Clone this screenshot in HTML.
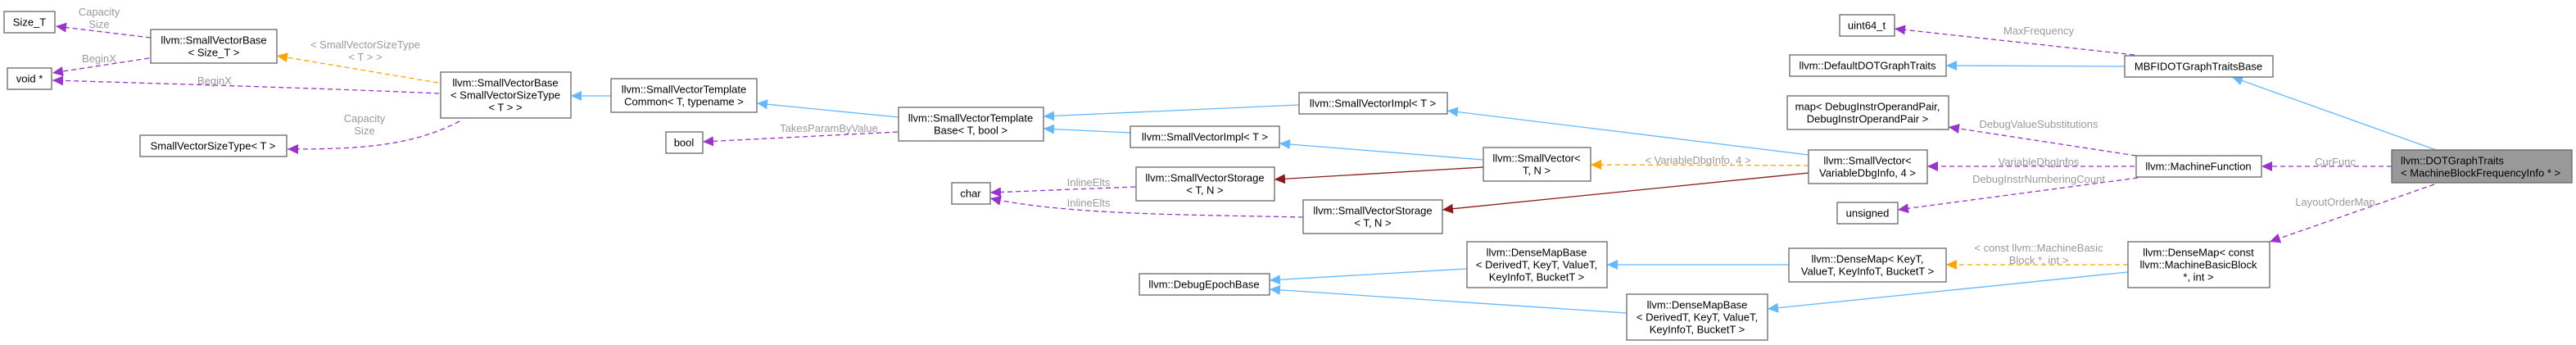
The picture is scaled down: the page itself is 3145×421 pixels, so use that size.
<!DOCTYPE html>
<html><head><meta charset="utf-8"><style>
html,body{margin:0;padding:0;background:#fff;}
svg{display:block;}
text{font-family:"Liberation Sans",Arial,sans-serif;font-size:13px;}
.n{fill:#000;}
.l{fill:#9a9a9a;text-anchor:middle;}
rect{fill:#fff;stroke:#666;stroke-width:1.3;}
.e{fill:none;stroke-width:1.3;}
.b{stroke:#63b8ff;}
.p{stroke:#9a32cd;stroke-dasharray:6,4;}
.o{stroke:#ffa500;stroke-dasharray:6,4;}
.r{stroke:#8b1a1a;}
</style></head><body>
<svg width="3145" height="421" viewBox="0 0 3145 421" xmlns="http://www.w3.org/2000/svg">
<defs>
<marker id="mb" markerUnits="userSpaceOnUse" markerWidth="14" markerHeight="12" refX="13" refY="6" orient="auto"><path d="M0,0 L13,6 L0,12 Z" fill="#63b8ff"/></marker>
<marker id="mp" markerUnits="userSpaceOnUse" markerWidth="14" markerHeight="12" refX="13" refY="6" orient="auto"><path d="M0,0 L13,6 L0,12 Z" fill="#9a32cd"/></marker>
<marker id="mo" markerUnits="userSpaceOnUse" markerWidth="14" markerHeight="12" refX="13" refY="6" orient="auto"><path d="M0,0 L13,6 L0,12 Z" fill="#ffa500"/></marker>
<marker id="mr" markerUnits="userSpaceOnUse" markerWidth="14" markerHeight="12" refX="13" refY="6" orient="auto"><path d="M0,0 L13,6 L0,12 Z" fill="#8b1a1a"/></marker>
</defs>

<!-- edges -->
<path class="e p" d="M184,46 L68,32" marker-end="url(#mp)"/>
<path class="e p" d="M182,71 L64,89" marker-end="url(#mp)"/>
<path class="e p" d="M536,114 C400,108 200,102 64,98" marker-end="url(#mp)"/>
<path class="e o" d="M535,101 L338,68" marker-end="url(#mo)"/>
<path class="e p" d="M561,148 C500,180 430,182 351,182" marker-end="url(#mp)"/>
<path class="e b" d="M746,117 L697,117" marker-end="url(#mb)"/>
<path class="e b" d="M1097,143 L924,126" marker-end="url(#mb)"/>
<path class="e p" d="M1096,161 L858,173" marker-end="url(#mp)"/>
<path class="e b" d="M1586,128 L1274,142" marker-end="url(#mb)"/>
<path class="e b" d="M1380,162 L1274,157" marker-end="url(#mb)"/>
<path class="e p" d="M1386,228 L1209,235" marker-end="url(#mp)"/>
<path class="e p" d="M1591,265 C1450,262 1300,262 1209,242" marker-end="url(#mp)"/>
<path class="e b" d="M2208,189 L1767,135" marker-end="url(#mb)"/>
<path class="e b" d="M1811,195 L1562,175" marker-end="url(#mb)"/>
<path class="e r" d="M1811,204 L1556,219" marker-end="url(#mr)"/>
<path class="e o" d="M2208,202 L1942,201" marker-end="url(#mo)"/>
<path class="e r" d="M2208,211 L1761,256" marker-end="url(#mr)"/>
<path class="e b" d="M1791,328 L1550,342" marker-end="url(#mb)"/>
<path class="e b" d="M1986,382 L1550,353" marker-end="url(#mb)"/>
<path class="e b" d="M2184,323 L1962,323" marker-end="url(#mb)"/>
<path class="e p" d="M2606,67 L2313,35" marker-end="url(#mp)"/>
<path class="e b" d="M2594,81 L2376,80" marker-end="url(#mb)"/>
<path class="e b" d="M2974,183 L2725,94" marker-end="url(#mb)"/>
<path class="e p" d="M2608,190 L2379,155" marker-end="url(#mp)"/>
<path class="e p" d="M2606,203 L2353,203" marker-end="url(#mp)"/>
<path class="e p" d="M2610,217 L2317,256" marker-end="url(#mp)"/>
<path class="e p" d="M2920,203 L2761,203" marker-end="url(#mp)"/>
<path class="e p" d="M2972,225 L2771,295" marker-end="url(#mp)"/>
<path class="e o" d="M2598,323 L2376,323" marker-end="url(#mo)"/>
<path class="e b" d="M2598,332 L2158,377" marker-end="url(#mb)"/>

<!-- edge labels -->
<text class="l" x="121" y="19">Capacity</text><text class="l" x="121" y="34">Size</text>
<text class="l" x="121" y="76">BeginX</text>
<text class="l" x="262" y="103">BeginX</text>
<text class="l" x="446" y="59">&lt; SmallVectorSizeType</text><text class="l" x="446" y="74">&lt; T &gt; &gt;</text>
<text class="l" x="445" y="149">Capacity</text><text class="l" x="445" y="164">Size</text>
<text class="l" x="1012" y="161">TakesParamByValue</text>
<text class="l" x="1329" y="227">InlineElts</text>
<text class="l" x="1329" y="252">InlineElts</text>
<text class="l" x="2073" y="200">&lt; VariableDbgInfo, 4 &gt;</text>
<text class="l" x="2489" y="42">MaxFrequency</text>
<text class="l" x="2489" y="156">DebugValueSubstitutions</text>
<text class="l" x="2489" y="202">VariableDbgInfos</text>
<text class="l" x="2489" y="223">DebugInstrNumberingCount</text>
<text class="l" x="2851" y="202">CurFunc</text>
<text class="l" x="2851" y="251">LayoutOrderMap</text>
<text class="l" x="2489" y="307">&lt; const llvm::MachineBasic</text><text class="l" x="2489" y="322">Block *, int &gt;</text>

<!-- nodes -->
<g text-anchor="middle" class="n">
<rect x="5" y="14" width="62" height="26"/><text x="36" y="31.5">Size_T</text>
<rect x="9" y="83" width="54" height="26"/><text x="36" y="100.5">void *</text>
<rect x="184" y="36" width="154" height="41"/><text x="261" y="53.5">llvm::SmallVectorBase</text><text x="261" y="68.5">&lt; Size_T &gt;</text>
<rect x="171" y="165" width="179" height="26"/><text x="260" y="182.5">SmallVectorSizeType&lt; T &gt;</text>
<rect x="538" y="88" width="159" height="56"/><text x="617" y="105.5">llvm::SmallVectorBase</text><text x="617" y="120.5">&lt; SmallVectorSizeType</text><text x="617" y="135.5">&lt; T &gt; &gt;</text>
<rect x="746" y="96" width="178" height="41"/><text x="835" y="113.5">llvm::SmallVectorTemplate</text><text x="835" y="128.5">Common&lt; T, typename &gt;</text>
<rect x="1097" y="131" width="177" height="41"/><text x="1185" y="148.5">llvm::SmallVectorTemplate</text><text x="1185" y="163.5">Base&lt; T, bool &gt;</text>
<rect x="813" y="161" width="45" height="26"/><text x="835" y="178.5">bool</text>
<rect x="1162" y="223" width="47" height="26"/><text x="1185" y="240.5">char</text>
<rect x="1586" y="113" width="181" height="26"/><text x="1676" y="130.5">llvm::SmallVectorImpl&lt; T &gt;</text>
<rect x="1380" y="154" width="182" height="26"/><text x="1471" y="171.5">llvm::SmallVectorImpl&lt; T &gt;</text>
<rect x="1387" y="204" width="169" height="41"/><text x="1471" y="221.5">llvm::SmallVectorStorage</text><text x="1471" y="236.5">&lt; T, N &gt;</text>
<rect x="1591" y="244" width="170" height="41"/><text x="1676" y="261.5">llvm::SmallVectorStorage</text><text x="1676" y="276.5">&lt; T, N &gt;</text>
<rect x="1391" y="334" width="159" height="26"/><text x="1470" y="351.5">llvm::DebugEpochBase</text>
<rect x="1811" y="180" width="131" height="41"/><text x="1876" y="197.5">llvm::SmallVector&lt;</text><text x="1876" y="212.5">T, N &gt;</text>
<rect x="1791" y="295" width="171" height="56"/><text x="1876" y="312.5">llvm::DenseMapBase</text><text x="1876" y="327.5">&lt; DerivedT, KeyT, ValueT,</text><text x="1876" y="342.5">KeyInfoT, BucketT &gt;</text>
<rect x="1986" y="359" width="172" height="56"/><text x="2072" y="376.5">llvm::DenseMapBase</text><text x="2072" y="391.5">&lt; DerivedT, KeyT, ValueT,</text><text x="2072" y="406.5">KeyInfoT, BucketT &gt;</text>
<rect x="2246" y="18" width="67" height="26"/><text x="2279" y="35.5">uint64_t</text>
<rect x="2185" y="67" width="191" height="26"/><text x="2280" y="84.5">llvm::DefaultDOTGraphTraits</text>
<rect x="2182" y="117" width="197" height="41"/><text x="2280" y="134.5">map&lt; DebugInstrOperandPair,</text><text x="2280" y="149.5">DebugInstrOperandPair &gt;</text>
<rect x="2208" y="183" width="145" height="41"/><text x="2280" y="200.5">llvm::SmallVector&lt;</text><text x="2280" y="215.5">VariableDbgInfo, 4 &gt;</text>
<rect x="2243" y="247" width="74" height="26"/><text x="2280" y="264.5">unsigned</text>
<rect x="2184" y="303" width="192" height="41"/><text x="2280" y="320.5">llvm::DenseMap&lt; KeyT,</text><text x="2280" y="335.5">ValueT, KeyInfoT, BucketT &gt;</text>
<rect x="2594" y="68" width="181" height="26"/><text x="2684" y="85.5">MBFIDOTGraphTraitsBase</text>
<rect x="2608" y="190" width="153" height="26"/><text x="2684" y="207.5">llvm::MachineFunction</text>
<rect x="2598" y="295" width="173" height="56"/><text x="2684" y="312.5">llvm::DenseMap&lt; const</text><text x="2684" y="327.5">llvm::MachineBasicBlock</text><text x="2684" y="342.5">*, int &gt;</text>
<rect x="2920" y="183" width="220" height="40" style="fill:#999;"/>
</g>
<text class="n" x="2931" y="200.5">llvm::DOTGraphTraits</text>
<text class="n" x="2931" y="215.5">&lt; MachineBlockFrequencyInfo * &gt;</text>
</svg>
</body></html>
